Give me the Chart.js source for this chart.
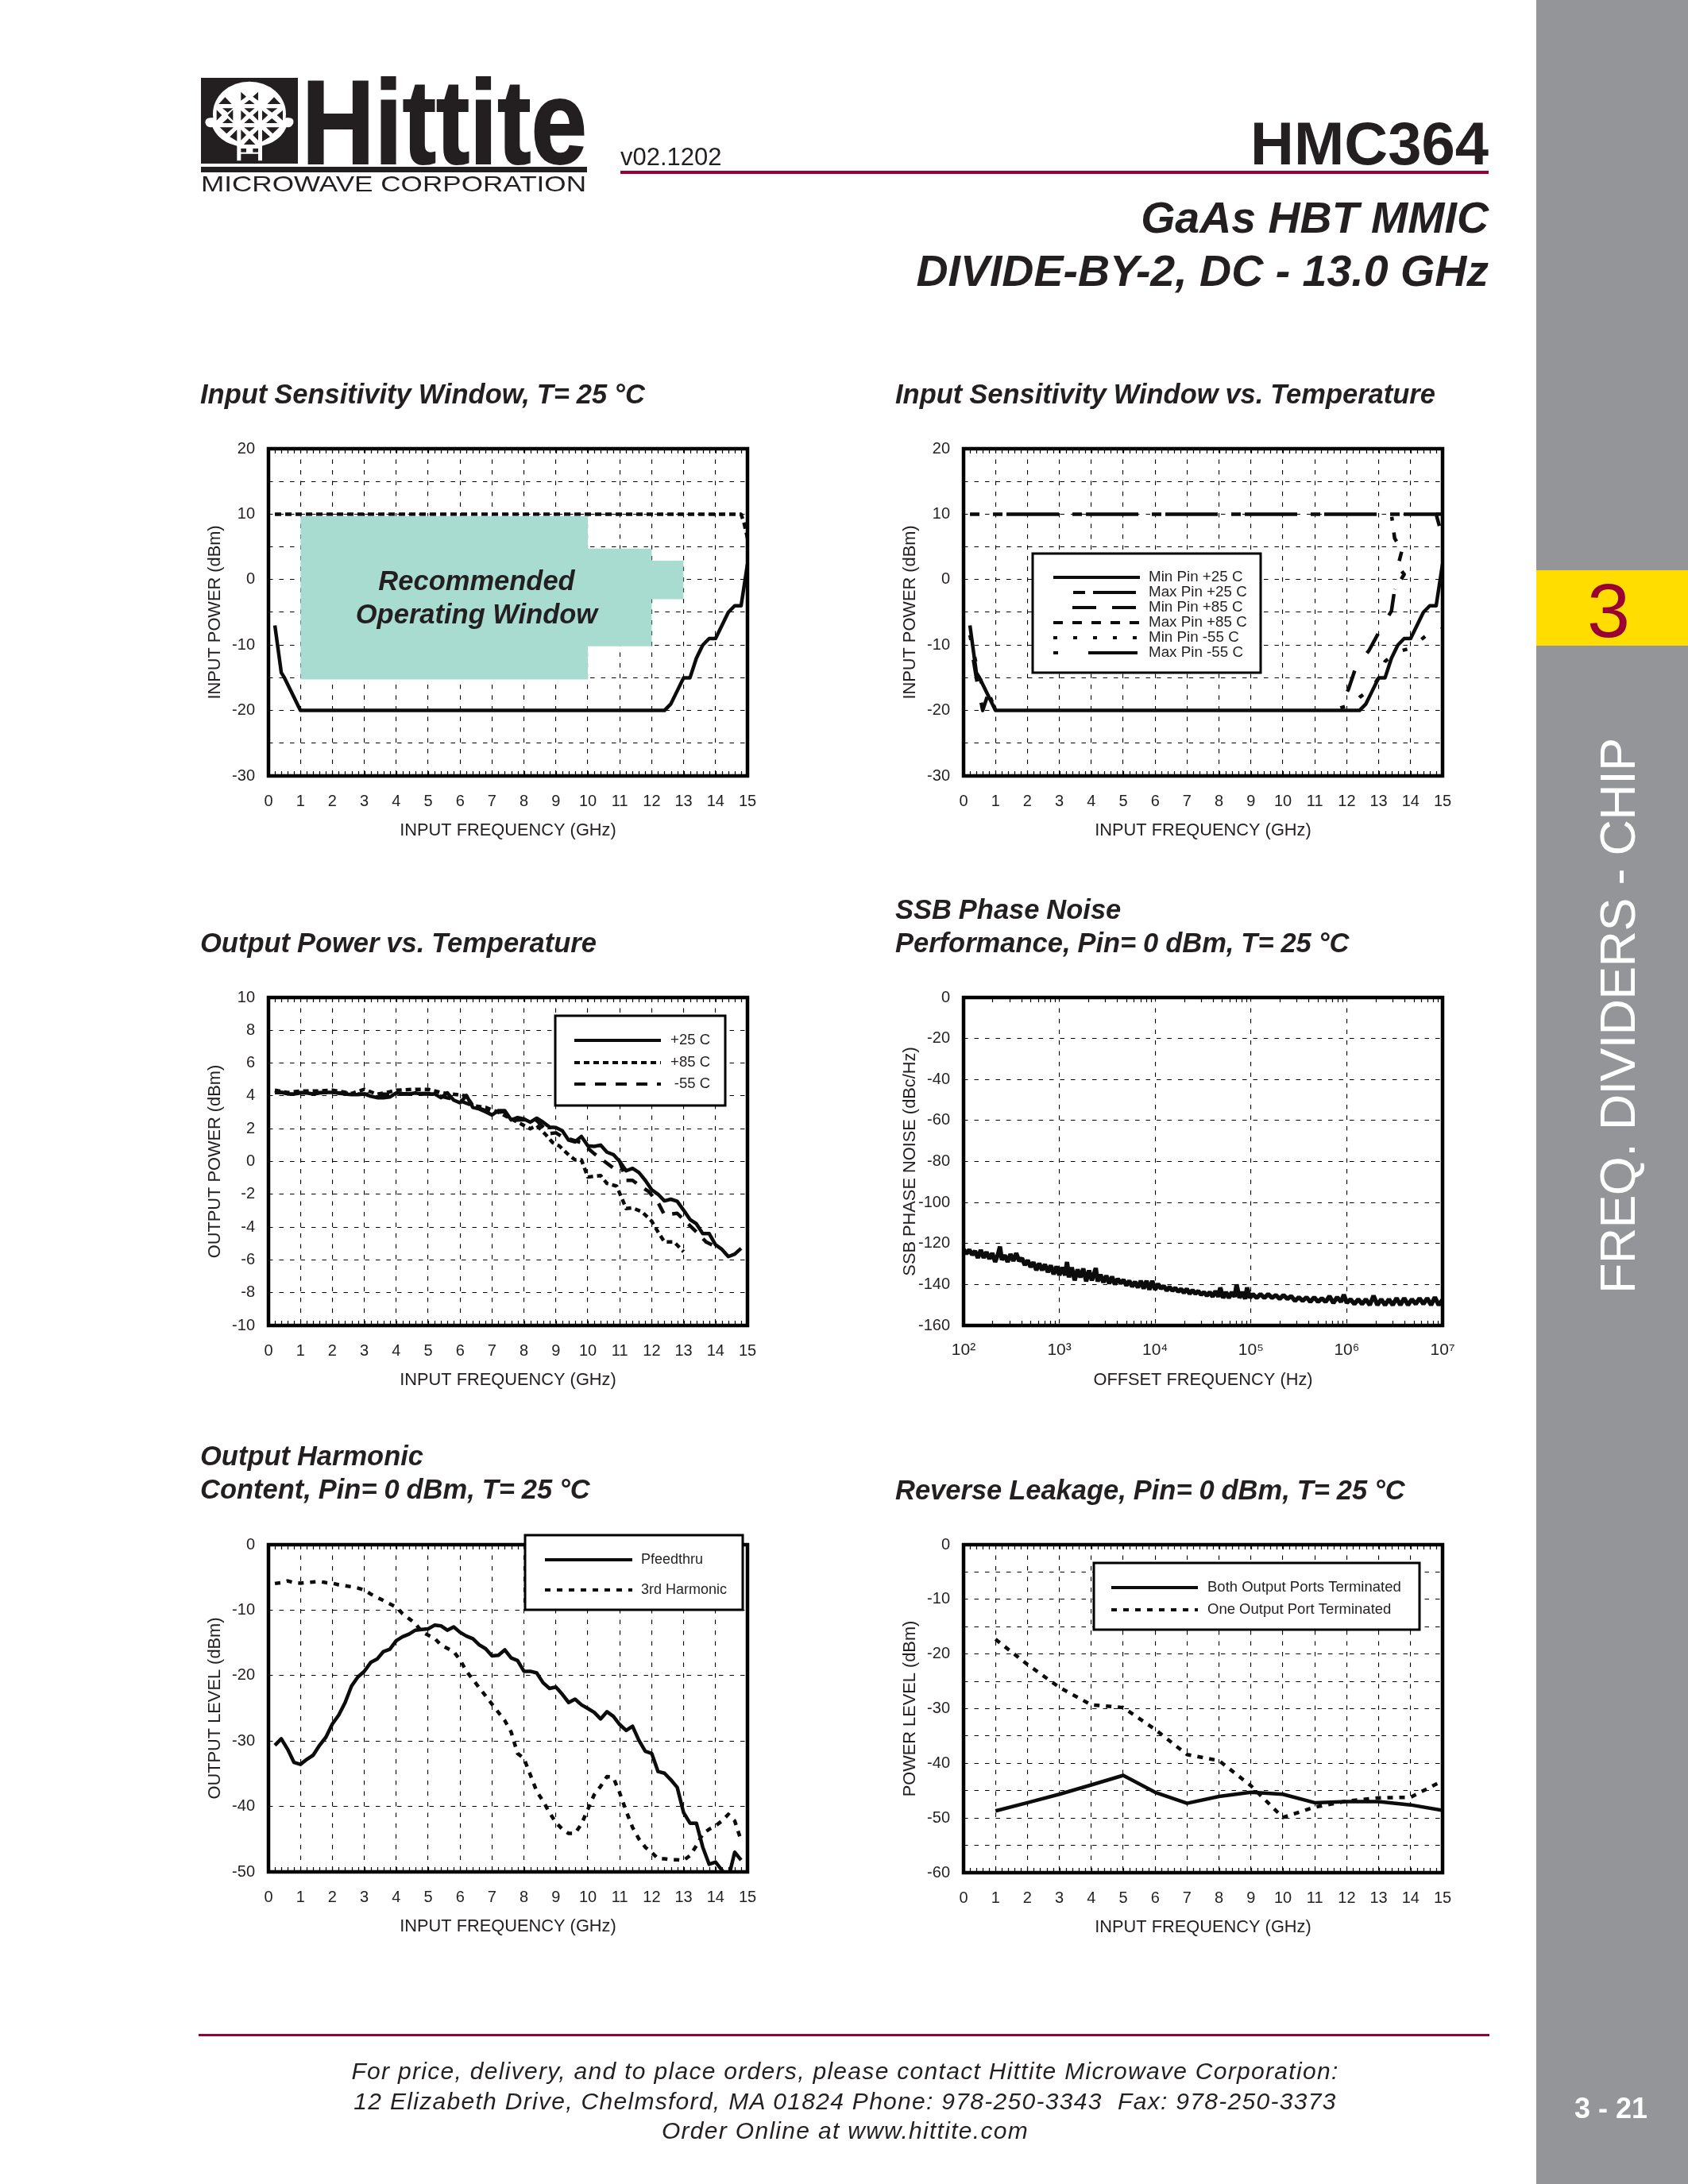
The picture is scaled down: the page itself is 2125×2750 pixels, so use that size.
<!DOCTYPE html>
<html>
<head>
<meta charset="utf-8">
<title>HMC364</title>
<script src="https://cdn.jsdelivr.net/npm/chart.js@4"></script>
<style>
html,body{margin:0;padding:0;background:#fff;}
#page{position:relative;width:2125px;height:2750px;overflow:hidden;background:#fff;}
canvas{position:absolute;display:block;}
#overlay{position:absolute;left:0;top:0;z-index:5;pointer-events:none;}
#overlay text{font-family:"Liberation Sans",Arial,sans-serif;fill:#231f20;}
.ttl{font-weight:bold;font-style:italic;font-size:34.5px;word-spacing:-0.7px;}
</style>
</head>
<body>
<div id="page">
<svg id="overlay" width="2125" height="2750" viewBox="0 0 2125 2750" xmlns="http://www.w3.org/2000/svg">
  <rect x="1934" y="0" width="191" height="2750" fill="#939598"/>
  <rect x="1934" y="718" width="191" height="95" fill="#ffdd00"/>
  <text x="2025" y="802" text-anchor="middle" font-size="97" style="fill:#9b0032">3</text>
  <text transform="translate(2058,1629) rotate(-90)" font-size="63" textLength="700" style="fill:#fff">FREQ. DIVIDERS - CHIP</text>
  <text x="2028" y="2667" text-anchor="middle" font-size="36" font-weight="bold" style="fill:#fff">3 - 21</text>

  <!-- logo -->
  <rect x="253" y="98" width="122" height="108" fill="#231f20"/>
  <g transform="translate(250,95) scale(0.3333)">
    <clipPath id="g"><ellipse cx="192" cy="145" rx="138" ry="122"/></clipPath>
    <path d="M25 178 Q25 158 50 160 L340 160 Q362 160 358 180 Q350 200 332 195 Q300 268 192 272 Q85 268 52 195 Q30 200 25 178Z" fill="#fff"/>
    <ellipse cx="192" cy="145" rx="138" ry="122" fill="#fff"/>
    <g clip-path="url(#g)" fill="#231f20">
      <path d="M160 62 L180 80 L160 95Z M225 62 L205 80 L225 95Z M172 108 L192 92 L212 108Z M76 108 L100 82 L125 108Z M260 108 L285 82 L310 108Z"/>
      <path d="M90 124 L130 124 L110 140Z M172 124 L212 124 L192 140Z M255 124 L298 124 L277 140Z"/>
      <path d="M68 130 L88 150 L68 170Z M130 130 L110 150 L130 170Z M160 132 L180 150 L160 170Z M225 132 L205 150 L225 170Z M240 132 L262 150 L240 170Z M318 132 L296 150 L318 170Z"/>
      <path d="M90 180 L130 180 L110 162Z M172 180 L212 180 L192 162Z M255 180 L298 180 L277 162Z"/>
      <path d="M80 196 L132 196 L106 220Z M172 196 L212 196 L192 212Z M255 196 L305 196 L280 220Z"/>
      <path d="M145 205 L145 248 L118 232Z M160 205 L180 225 L160 245Z M225 205 L205 225 L225 245Z M240 205 L240 250 L270 232Z M170 262 L192 238 L215 262Z"/>
    </g>
    <path d="M145 262 H240 V322 H225 V296 H160 V322 H145Z" fill="#fff"/>
    <rect x="160" y="276" width="20" height="14" fill="#231f20"/>
    <rect x="205" y="276" width="20" height="14" fill="#231f20"/>
  </g>
  <text x="380" y="206" font-size="150" font-weight="bold" textLength="359" lengthAdjust="spacingAndGlyphs" stroke="#231f20" stroke-width="2">Hittite</text>
  <rect x="253" y="210" width="486" height="7" fill="#231f20"/>
  <text x="253" y="241" font-size="28" textLength="485" lengthAdjust="spacingAndGlyphs">MICROWAVE CORPORATION</text>

  <text x="781" y="208" font-size="31">v02.1202</text>
  <rect x="781" y="215" width="1093" height="4" fill="#9b0032"/>
  <rect x="250" y="2561" width="1625" height="3" fill="#9b0032"/>
  <text x="1874" y="207" text-anchor="end" font-size="76" font-weight="bold">HMC364</text>
  <text x="1874" y="293" text-anchor="end" font-size="55.5" font-weight="bold" font-style="italic">GaAs HBT MMIC</text>
  <text x="1874" y="360" text-anchor="end" font-size="55.5" font-weight="bold" font-style="italic">DIVIDE-BY-2, DC - 13.0 GHz</text>

  <text class="ttl" x="252" y="508">Input Sensitivity Window, T= 25 °C</text>
  <text class="ttl" x="1127" y="508">Input Sensitivity Window vs. Temperature</text>
  <text class="ttl" x="252" y="1199">Output Power vs. Temperature</text>
  <text class="ttl" x="1127" y="1157">SSB Phase Noise</text>
  <text class="ttl" x="1127" y="1199">Performance, Pin= 0 dBm, T= 25 °C</text>
  <text class="ttl" x="252" y="1845">Output Harmonic</text>
  <text class="ttl" x="252" y="1887">Content, Pin= 0 dBm, T= 25 °C</text>
  <text class="ttl" x="1127" y="1888">Reverse Leakage, Pin= 0 dBm, T= 25 °C</text>

  <text x="600" y="743" text-anchor="middle" font-size="34.5" font-weight="bold" font-style="italic">Recommended</text>
  <text x="600" y="785" text-anchor="middle" font-size="34.5" font-weight="bold" font-style="italic">Operating Window</text>

  <text x="1064" y="2618" text-anchor="middle" font-size="30" font-style="italic" letter-spacing="1.3">For price, delivery, and to place orders, please contact Hittite Microwave Corporation:</text>
  <text x="1064" y="2656" text-anchor="middle" font-size="30" font-style="italic" letter-spacing="1.3" xml:space="preserve">12 Elizabeth Drive, Chelmsford, MA 01824 Phone: 978-250-3343  Fax: 978-250-3373</text>
  <text x="1064" y="2693" text-anchor="middle" font-size="30" font-style="italic" letter-spacing="1.3">Order Online at www.hittite.com</text>
</svg>
</div>
<script>
// ---------- chart data ----------
const gridFreq = [0.2,0.4,0.6,0.8,1.0,1.2,1.4,1.6,1.8,2.0,2.2,2.4,2.6,2.8,3.0,3.2,3.4,3.6,3.8,4.0,4.2,4.4,4.6,4.8,5.0,5.2,5.4,5.6,5.8,6.0,6.2,6.4,6.6,6.8,7.0,7.2,7.4,7.6,7.8,8.0,8.2,8.4,8.6,8.8,9.0,9.2,9.4,9.6,9.8,10.0,10.2,10.4,10.6,10.8,11.0,11.2,11.4,11.6,11.8,12.0,12.2,12.4,12.6,12.8,13.0,13.2,13.4,13.6,13.8,14.0,14.2,14.4,14.6,14.8];

// Input sensitivity window
const minPinFreq = [0.2,0.4,0.5,1.0,12.4,12.6,12.8,13.0,13.2,13.4,13.6,13.8,14.0,14.2,14.4,14.6,14.8,15.0];
const minPin25 = [-7,-14.2,-15,-20,-20,-19,-17,-15,-15,-12,-10,-9,-9,-7,-5,-4,-4,2.4];
const maxPinFreq = [0.2,14.8,14.9,15.0];
const maxPin25 = [10,10,8.5,6.3];
const windowFreq = [1,10,10,12,12,13];
const windowUpper = [9.7,9.7,4.75,4.75,2.9,2.9];
const windowLower = [-15.25,-15.25,-10.2,-10.2,-3,-3];

// Input sensitivity vs temperature
const maxPin25TFreq = [0.2,14.8,14.9];
const maxPin25T = [10,10,8.2];
const minPin85Freq = [0.2,0.4,0.6,0.8,1.0,5,11.7,12.05,12.27,12.7,13.07,13.4,13.5];
const minPin85 = [-9,-15,-20,-17,-20,null,-20,-16.8,-13.6,-10.8,-7.5,-4.8,-1.5];
const maxPin85Freq = [13.41,13.5,13.73,13.6,13.8,13.5];
const maxPin85 = [9.6,6.3,4.5,2,0.8,-1.5];
const minPin55Freq = [0.2,0.4,0.6,0.8,1.0,5,11.8,12.2,12.4,12.8,13.0,13.2,13.6,14.0,14.5,15.0];
const minPin55 = [-8.5,-13,-16.5,-17.5,-20,null,-19.6,-19,-18,-16.5,-15,-12.5,-11,-10.5,-8.5,-7.5];
const maxPin55Freq = [14.8,15.0];
const maxPin55 = [10,10];

// Output power
const outPower25 = [4.31,4.21,4.12,4.12,4.18,4.18,4.12,4.18,4.21,4.21,4.16,4.12,4.08,4.08,4.12,3.98,3.89,3.89,3.93,4.18,4.14,4.12,4.18,4.12,4.12,4.12,3.89,4.18,3.74,3.58,4.02,3.3,3.2,3.03,2.84,3.1,3.1,2.53,2.68,2.59,2.4,2.64,2.4,2.1,2.07,1.88,1.3,1.2,1.53,0.96,0.92,1.0,0.57,0.42,0.0,-0.57,-0.42,-0.67,-1.15,-1.72,-2.0,-2.4,-2.3,-2.43,-2.97,-3.54,-3.8,-4.4,-4.4,-5.08,-5.36,-5.8,-5.65,-5.3];
const outPower85Freq = [0.2,0.6,1.0,1.6,2.0,2.6,3.0,3.4,3.8,4.0,4.6,5.0,5.4,6.2,6.4,6.8,7.2,7.6,7.8,8.2,8.4,8.7,8.9,9.1,9.4,9.6,9.8,10.0,10.4,10.6,10.9,11.1,11.2,11.4,11.7,12.0,12.2,12.4,12.7,13.0];
const outPower85 = [4.35,4.2,4.3,4.3,4.35,4.15,4.4,4.1,4.25,4.35,4.4,4.4,4.2,4.0,3.4,3.3,3.0,2.6,2.4,2.0,2.2,1.6,1.15,0.96,0.4,0.1,0.1,-0.95,-0.86,-1.34,-1.5,-2.4,-2.87,-2.83,-3.07,-3.64,-4.3,-4.9,-4.9,-5.5];
const outPower55Freq = [0.2,1.0,2.0,3.0,4.0,5.0,6.0,6.4,7.0,7.4,7.6,8.0,8.4,8.8,9.0,9.2,9.8,10.2,10.8,11.0,11.2,11.4,11.6,11.9,12.2,12.4,12.8,13.0,13.4,13.7,14.0];
const outPower55 = [4.2,4.2,4.2,4.1,4.1,4.15,3.7,3.4,2.95,3.05,2.5,2.55,2.5,1.7,1.75,1.5,1.15,0.48,-0.4,0.0,-1.15,-1.15,-1.44,-1.82,-2.5,-3.26,-3.16,-3.54,-4.3,-4.9,-5.2];

// SSB phase noise: [log10(offset Hz), dBc/Hz]
const phaseNoise = [[2.00,-122.8],[2.03,-125],[2.06,-123],[2.09,-125.5],[2.12,-123.7],[2.15,-127],[2.18,-123.2],[2.21,-127],[2.24,-124.2],[2.27,-127.5],[2.30,-124.7],[2.33,-129],[2.36,-125.2],[2.38,-121.5],[2.40,-128],[2.43,-125.7],[2.46,-129],[2.49,-125.2],[2.52,-128.5],[2.55,-124.7],[2.58,-128.5],[2.61,-127.2],[2.64,-130.5],[2.67,-128.2],[2.70,-131.5],[2.73,-129.2],[2.76,-133],[2.79,-129.7],[2.82,-133],[2.85,-130.2],[2.88,-134],[2.91,-130.7],[2.94,-135],[2.97,-131.2],[3.00,-135.5],[3.03,-131.7],[3.06,-135.5],[3.08,-129],[3.10,-136.5],[3.13,-131.7],[3.16,-138],[3.19,-132.7],[3.22,-136.5],[3.25,-132.2],[3.28,-138.5],[3.31,-133.2],[3.34,-138],[3.38,-132],[3.40,-138.5],[3.43,-135.2],[3.46,-139],[3.49,-135.7],[3.52,-139.5],[3.55,-136.2],[3.58,-140],[3.61,-137.2],[3.64,-139.5],[3.67,-137.7],[3.70,-140.5],[3.73,-138.2],[3.76,-141],[3.79,-138.7],[3.82,-141.5],[3.85,-138.2],[3.88,-142],[3.91,-138.2],[3.94,-142.5],[3.97,-138.2],[4.00,-142.5],[4.03,-139.7],[4.06,-142],[4.09,-140.7],[4.12,-143],[4.15,-141.2],[4.18,-143],[4.21,-141.7],[4.24,-143.5],[4.27,-142.2],[4.30,-144],[4.33,-142.2],[4.36,-144.5],[4.39,-142.7],[4.42,-144.5],[4.45,-143.2],[4.48,-145],[4.51,-143.7],[4.54,-145.5],[4.57,-143.7],[4.60,-146],[4.63,-143.2],[4.66,-146],[4.68,-141.5],[4.71,-146.5],[4.74,-143.7],[4.77,-146.5],[4.80,-143.7],[4.83,-146],[4.85,-140],[4.88,-146.5],[4.91,-143.7],[4.94,-147],[4.96,-141.5],[4.99,-146.5],[5.02,-144.7],[5.06,-146.5],[5.10,-144.7],[5.14,-146.5],[5.18,-144.7],[5.22,-146.5],[5.26,-145.2],[5.30,-147],[5.34,-145.2],[5.38,-147],[5.42,-145.7],[5.46,-148],[5.50,-146.2],[5.54,-148],[5.58,-146.2],[5.62,-148.5],[5.66,-146.2],[5.70,-148.5],[5.74,-146.7],[5.78,-148.5],[5.82,-145.7],[5.86,-149],[5.90,-146.2],[5.94,-148.5],[5.97,-145],[6.00,-149],[6.04,-147.2],[6.08,-149.5],[6.12,-147.2],[6.16,-149.5],[6.20,-147.2],[6.24,-150],[6.28,-145.5],[6.32,-150],[6.36,-147.2],[6.40,-150],[6.44,-147.2],[6.48,-150],[6.52,-146.7],[6.56,-150],[6.60,-146.7],[6.64,-150],[6.68,-147.2],[6.72,-149.5],[6.76,-146.7],[6.80,-149.5],[6.84,-146.7],[6.88,-150],[6.92,-146.2],[6.96,-150],[7.00,-147.5]];
const phaseDecades = [100,1000,10000,100000,1000000,10000000];
const phaseLabels = ['10²','10³','10⁴','10⁵','10⁶','10⁷'];

// Output harmonic content
const pfeedthru = [-30.65,-29.65,-31.26,-33.27,-33.57,-32.8,-32.16,-30.65,-29.4,-27.39,-26.03,-24.12,-21.6,-20.2,-19.35,-18,-17.49,-16.33,-15.98,-14.67,-14.07,-13.67,-13.07,-12.96,-12.86,-12.3,-12.4,-13.07,-12.56,-13.4,-13.97,-14.37,-15.3,-15.9,-17,-16.9,-16.08,-17.3,-17.7,-19.35,-19.35,-19.6,-21.1,-21.96,-21.76,-22.86,-24.12,-23.6,-24.47,-25.03,-25.63,-26.63,-25.53,-26.23,-27.49,-28.39,-27.74,-29.9,-31.56,-31.9,-34.67,-34.92,-35.93,-37.09,-40.95,-42.56,-42.56,-46.23,-48.84,-48.5,-49.75,-51,-47,-48.2];
const thirdHarmonic = [-5.93,-5.8,-5.53,-5.8,-5.88,-5.8,-5.7,-5.63,-5.8,-5.88,-6.13,-6.28,-6.43,-6.63,-6.93,-7.54,-8.04,-8.54,-9.05,-9.55,-10.55,-11.3,-12.06,-13.3,-13.82,-14.3,-15.33,-15.83,-16.33,-17.6,-19.35,-20.6,-21.86,-23.1,-24.37,-25.63,-26.88,-28.64,-31.9,-32.66,-35.18,-37.69,-39.2,-40.95,-42.46,-43.47,-44.12,-44.12,-42.7,-40.45,-38.2,-36.93,-35.43,-35.6,-37.94,-40.7,-43.2,-44.97,-46.23,-47,-48,-48,-48.14,-48.14,-48.24,-47.5,-46,-44.2,-43.47,-42.96,-42.2,-41.2,-42.2,-45.2];

// Reverse leakage
const leakFreq = [1,2,3,4,5,6,7,8,9,10,11,12,13,14,15];
const bothTerminated = [-48.7,-47.2,-45.65,-43.95,-42.2,-45.3,-47.3,-46.05,-45.3,-45.65,-47.2,-47,-47,-47.6,-48.6];
const oneTerminated = [-17.3,-21.9,-26.1,-29.3,-29.8,-33.8,-38.4,-39.5,-44.1,-49.9,-48,-46.9,-46.3,-46.2,-43.2];

// ---------- helpers ----------
const xy = (xs, ys) => xs.map((x, i) => ({x, y: ys[i]}));
const INK = '#231f20', LINE = '#0c0c0c', FONT = '"Liberation Sans", Arial, sans-serif';
const M = {l: 120, r: 40, t: 40, b: 100};
const line = (label, data, dash, extra) => Object.assign({label, data, borderColor: LINE, borderWidth: 4.5, borderDash: dash || [], pointRadius: 0, tension: 0, fill: false, spanGaps: false, borderCapStyle: 'butt', borderJoinStyle: 'round'}, extra || {});

const linearMinors = [];
for (let i = 0; i <= 75; i++) linearMinors.push(i * 0.2);
const logMinors = [];
for (let d = 2; d < 7; d++) for (let k = 2; k <= 9; k++) logMinors.push(k * Math.pow(10, d));

const framePlugin = {
  id: 'frameLegend',
  afterDraw(chart) {
    const c = chart.ctx, a = chart.chartArea, o = chart.options.plugins.frameLegend, xs = chart.scales.x;
    c.save();
    // minor ticks along top and bottom edges
    c.strokeStyle = '#000'; c.lineWidth = 1.2; c.setLineDash([]);
    (o.minors || []).forEach(v => {
      const px = Math.round(xs.getPixelForValue(v)) + 0.5;
      c.beginPath();
      c.moveTo(px, a.top); c.lineTo(px, a.top + 6);
      c.moveTo(px, a.bottom); c.lineTo(px, a.bottom - 6);
      c.stroke();
    });
    // frame
    c.lineWidth = 4.5; c.strokeStyle = '#000';
    c.strokeRect(a.left, a.top, a.right - a.left, a.bottom - a.top);
    // legend
    const L = o.legend;
    if (L) {
      const ox = a.left - o.left, oy = a.top - o.top;
      c.fillStyle = '#fff';
      c.fillRect(L.box[0] + ox, L.box[1] + oy, L.box[2] - L.box[0], L.box[3] - L.box[1]);
      c.lineWidth = 3; c.strokeStyle = '#000';
      c.strokeRect(L.box[0] + ox, L.box[1] + oy, L.box[2] - L.box[0], L.box[3] - L.box[1]);
      c.font = L.font + 'px ' + FONT; c.textBaseline = 'middle'; c.fillStyle = INK;
      L.rows.forEach(r => {
        const ds = chart.data.datasets[r.index];
        c.beginPath(); c.lineWidth = 4; c.strokeStyle = LINE;
        c.setLineDash(r.dash || ds.borderDash || []);
        c.lineDashOffset = r.dashOffset || 0;
        c.moveTo(L.sample[0] + ox, r.y + oy); c.lineTo(L.sample[1] + ox, r.y + oy); c.stroke();
        c.setLineDash([]);
        c.lineDashOffset = 0;
        c.textAlign = L.align || 'left';
        c.fillText(ds.label, L.textX + ox, r.y + oy);
      });
    }
    c.restore();
  }
};
Chart.register(framePlugin);

function makeChart(cfg) {
  const w = cfg.w + M.l + M.r, h = cfg.h + M.t + M.b;
  const cv = document.createElement('canvas');
  cv.width = w; cv.height = h;
  cv.style.left = (cfg.left - M.l) + 'px'; cv.style.top = (cfg.top - M.t) + 'px';
  cv.style.width = w + 'px'; cv.style.height = h + 'px';
  document.getElementById('page').appendChild(cv);
  const tickFont = {family: FONT, size: 20}, titleFont = {family: FONT, size: 21.8};
  const grid = {display: true, color: '#000', lineWidth: 1.1, drawTicks: false};
  const border = {display: false, dash: [5.5, 8]};
  new Chart(cv, {
    type: 'line',
    data: {datasets: cfg.datasets},
    options: {
      responsive: false, maintainAspectRatio: false, animation: false, devicePixelRatio: 1,
      layout: {padding: {top: M.t, right: M.r, left: 0, bottom: 0}},
      plugins: {legend: {display: false}, title: {display: false}, tooltip: {enabled: false},
        frameLegend: {left: cfg.left, top: cfg.top, minors: cfg.minors, legend: cfg.legend}},
      scales: {
        x: Object.assign({
          type: 'linear', min: 0, max: 15, grid, border,
          afterFit: s => { s.height = M.b; },
          ticks: {stepSize: 1, color: INK, font: tickFont, padding: 20, maxRotation: 0, autoSkip: false},
          title: {display: true, text: cfg.xTitle, color: INK, font: titleFont, padding: {top: 0, bottom: 18}}
        }, cfg.x || {}),
        y: {
          type: 'linear', min: cfg.yMin, max: cfg.yMax, grid, border,
          afterFit: s => { s.width = M.l; },
          ticks: {stepSize: cfg.yStep, color: INK, font: tickFont, padding: 17, autoSkip: false,
            callback: v => (v % cfg.yLabelStep === 0 ? String(v) : '')},
          title: {display: true, text: cfg.yTitle, color: INK, font: titleFont, padding: {top: 40, bottom: 0}}
        }
      }
    }
  });
}

const PW = 603, PH = 412;
const GHZ = 'INPUT FREQUENCY (GHz)';

makeChart({left: 338, top: 565, w: PW, h: PH, xTitle: GHZ, yTitle: 'INPUT POWER (dBm)', yMin: -30, yMax: 20, yStep: 5, yLabelStep: 10, minors: linearMinors,
  datasets: [
    line('Recommended Operating Window', xy(windowFreq, windowUpper), [], {borderWidth: 0, borderColor: 'rgba(0,0,0,0)', backgroundColor: '#a9dcd0', fill: '+1'}),
    line('Window lower bound', xy(windowFreq, windowLower), [], {borderWidth: 0, borderColor: 'rgba(0,0,0,0)'}),
    line('Max Pin', xy(maxPinFreq, maxPin25), [8, 5]),
    line('Min Pin', xy(minPinFreq, minPin25))
  ]});

makeChart({left: 1213, top: 565, w: PW, h: PH, xTitle: GHZ, yTitle: 'INPUT POWER (dBm)', yMin: -30, yMax: 20, yStep: 5, yLabelStep: 10, minors: linearMinors,
  legend: {box: [1300, 697, 1587, 847], sample: [1326, 1435], textX: 1446, font: 18.8, rows: [
    {index: 0, y: 727}, {index: 1, y: 746, dash: [15, 10, 54, 100], dashOffset: -25}, {index: 2, y: 765, dash: [30, 20, 30, 100], dashOffset: -24},
    {index: 3, y: 784, dash: [12, 12]}, {index: 4, y: 803, dash: [5, 20]}, {index: 5, y: 822, dash: [6, 38, 62, 100]}]},
  datasets: [
    line('Min Pin +25 C', xy(minPinFreq, minPin25)),
    line('Max Pin +25 C', xy(maxPin25TFreq, maxPin25T), [66, 17, 12, 5], {borderDashOffset: 54}),
    line('Min Pin +85 C', xy(minPin85Freq, minPin85), [28, 27], {borderDashOffset: 28}),
    line('Max Pin +85 C', xy(maxPin85Freq, maxPin85), [12, 15], {borderDashOffset: 7}),
    line('Min Pin -55 C', xy(minPin55Freq, minPin55), [6, 22]),
    line('Max Pin -55 C', xy(maxPin55Freq, maxPin55), [])
  ]});

makeChart({left: 338, top: 1256, w: PW, h: 413, xTitle: GHZ, yTitle: 'OUTPUT POWER (dBm)', yMin: -10, yMax: 10, yStep: 2, yLabelStep: 2, minors: linearMinors,
  legend: {box: [699, 1279, 913, 1392], sample: [723, 832], textX: 894, align: 'right', font: 18.5, rows: [
    {index: 0, y: 1310}, {index: 1, y: 1338}, {index: 2, y: 1365}]},
  datasets: [
    line('+25 C', xy(gridFreq, outPower25)),
    line('+85 C', xy(outPower85Freq, outPower85), [7, 5]),
    line('-55 C', xy(outPower55Freq, outPower55), [14, 12])
  ]});

makeChart({left: 1213, top: 1256, w: PW, h: 413, xTitle: 'OFFSET FREQUENCY (Hz)', yTitle: 'SSB PHASE NOISE (dBc/Hz)', yMin: -160, yMax: 0, yStep: 20, yLabelStep: 20, minors: logMinors,
  x: {type: 'logarithmic', min: 100, max: 10000000,
    afterBuildTicks: s => { s.ticks = phaseDecades.map(v => ({value: v})); },
    ticks: {color: INK, font: {family: FONT, size: 21}, padding: 19, maxRotation: 0, autoSkip: false,
      callback: v => phaseLabels[phaseDecades.indexOf(v)]}},
  datasets: [
    line('SSB phase noise', phaseNoise.map(p => ({x: Math.pow(10, p[0]), y: p[1]})), [], {borderWidth: 5.5, borderJoinStyle: 'bevel'})
  ]});

makeChart({left: 338, top: 1945, w: PW, h: 412, xTitle: GHZ, yTitle: 'OUTPUT LEVEL (dBm)', yMin: -50, yMax: 0, yStep: 10, yLabelStep: 10, minors: linearMinors,
  legend: {box: [661, 1933, 935, 2027], sample: [686, 796], textX: 807, font: 18, rows: [
    {index: 0, y: 1964}, {index: 1, y: 2002}]},
  datasets: [
    line('Pfeedthru', xy(gridFreq, pfeedthru)),
    line('3rd Harmonic', xy(gridFreq, thirdHarmonic), [7, 8])
  ]});

makeChart({left: 1213, top: 1945, w: PW, h: 413, xTitle: GHZ, yTitle: 'POWER LEVEL (dBm)', yMin: -60, yMax: 0, yStep: 5, yLabelStep: 10, minors: linearMinors,
  legend: {box: [1377, 1968, 1787, 2052], sample: [1399, 1508], textX: 1520, font: 18.5, rows: [
    {index: 0, y: 1999}, {index: 1, y: 2027}]},
  datasets: [
    line('Both Output Ports Terminated', xy(leakFreq, bothTerminated)),
    line('One Output Port Terminated', xy(leakFreq, oneTerminated), [7, 8])
  ]});
</script>
</body>
</html>
